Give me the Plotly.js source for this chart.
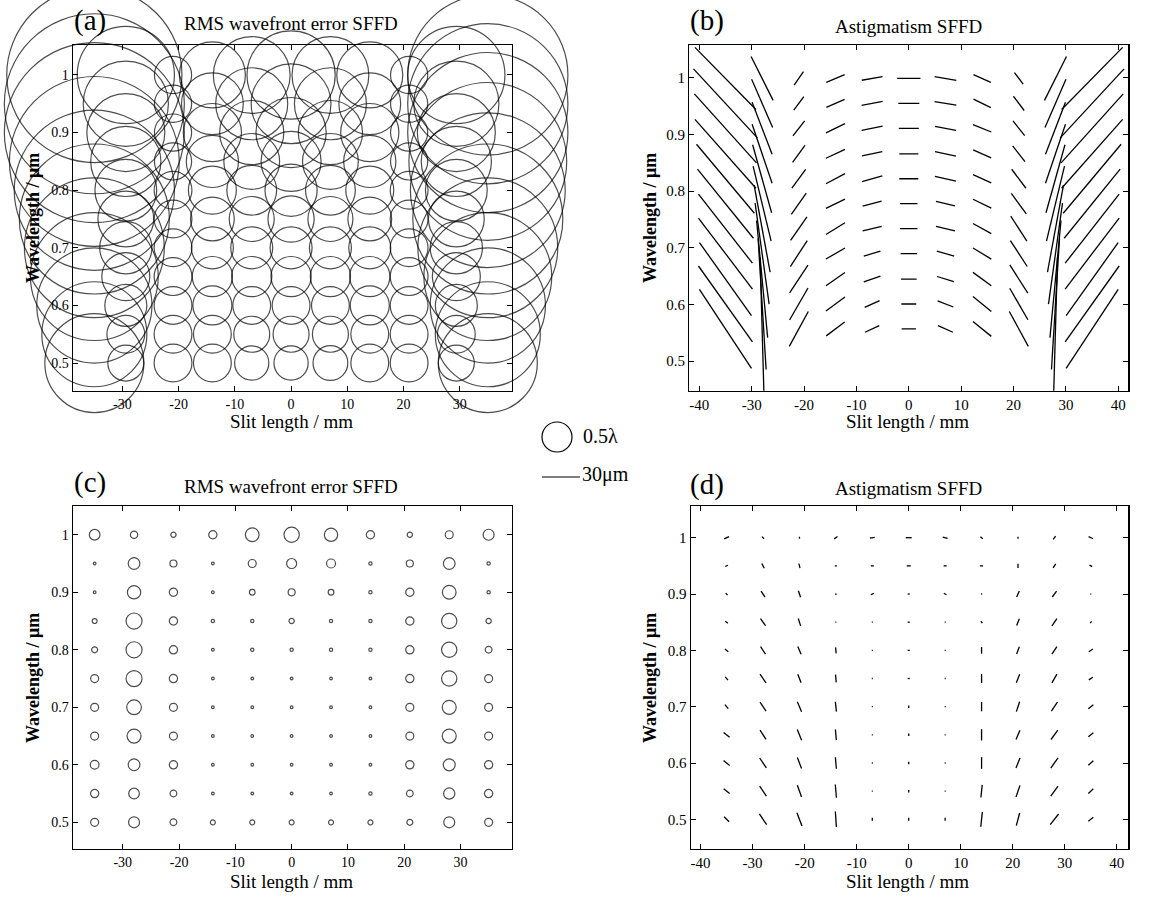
<!DOCTYPE html>
<html><head><meta charset="utf-8">
<script src="https://cdn.plot.ly/plotly-3.0.1.min.js"></script>
<style>html,body{margin:0;padding:0;background:#fff}</style>
</head><body>
<div id="chart" style="width:1163px;height:897px"></div>
<script>
// ---------- data ----------
const slit = [-35, -28, -21, -14, -7, 0, 7, 14, 21, 28, 35];           // mm
const slitA = [-35, -29.4, -21, -14, -7, 0, 7, 14, 21, 29.4, 35];       // mm, positions plotted in (a)
const wavelength = [1.0, 0.95, 0.9, 0.85, 0.8, 0.75, 0.7, 0.65, 0.6, 0.55, 0.5]; // um
const wavelengthB = [0.999, 0.955, 0.911, 0.866, 0.822, 0.778, 0.734, 0.690, 0.645, 0.601, 0.557]; // um, rows of (b)

const slitTicksAC = [-30, -20, -10, 0, 10, 20, 30];
const slitTicksBD = [-40, -30, -20, -10, 0, 10, 20, 30, 40];
const wlTicks = [0.5, 0.6, 0.7, 0.8, 0.9, 1];

// (a) RMS wavefront error [lambda], rows = wavelength (1.0 -> 0.5), cols = slit
const rmsA = [
  [2.92, 1.62, 0.62, 1.10, 1.28, 1.47, 1.28, 1.10, 0.62, 1.62, 2.67],
  [3.00, 1.42, 0.62, 1.03, 1.20, 1.33, 1.20, 1.03, 0.62, 1.42, 2.67],
  [3.00, 1.30, 0.62, 0.97, 1.07, 1.17, 1.07, 0.97, 0.62, 1.30, 2.67],
  [2.83, 1.17, 0.62, 0.87, 0.93, 1.00, 0.93, 0.87, 0.62, 1.17, 2.63],
  [2.67, 1.03, 0.63, 0.80, 0.83, 0.87, 0.83, 0.80, 0.63, 1.03, 2.58],
  [2.50, 0.93, 0.63, 0.73, 0.75, 0.77, 0.75, 0.73, 0.63, 0.93, 2.50],
  [2.33, 0.87, 0.63, 0.70, 0.70, 0.70, 0.70, 0.70, 0.63, 0.87, 2.33],
  [2.13, 0.80, 0.63, 0.67, 0.67, 0.67, 0.67, 0.67, 0.63, 0.80, 2.13],
  [1.92, 0.70, 0.63, 0.65, 0.63, 0.63, 0.63, 0.65, 0.63, 0.70, 1.92],
  [1.75, 0.63, 0.63, 0.63, 0.60, 0.60, 0.60, 0.63, 0.63, 0.63, 1.75],
  [1.65, 0.60, 0.63, 0.63, 0.57, 0.57, 0.58, 0.63, 0.63, 0.60, 1.65]
];

// (c) RMS wavefront error [lambda]
const rmsC = [
  [0.178, 0.122, 0.088, 0.138, 0.228, 0.255, 0.222, 0.138, 0.088, 0.133, 0.183],
  [0.045, 0.195, 0.117, 0.045, 0.133, 0.167, 0.150, 0.055, 0.117, 0.195, 0.055],
  [0.045, 0.222, 0.138, 0.045, 0.095, 0.117, 0.095, 0.055, 0.138, 0.228, 0.055],
  [0.083, 0.267, 0.138, 0.055, 0.055, 0.088, 0.055, 0.055, 0.138, 0.255, 0.088],
  [0.100, 0.267, 0.138, 0.045, 0.055, 0.055, 0.055, 0.055, 0.138, 0.255, 0.112],
  [0.133, 0.267, 0.138, 0.045, 0.045, 0.045, 0.045, 0.045, 0.138, 0.255, 0.133],
  [0.133, 0.245, 0.133, 0.045, 0.045, 0.045, 0.045, 0.045, 0.133, 0.233, 0.133],
  [0.133, 0.233, 0.133, 0.045, 0.045, 0.045, 0.045, 0.045, 0.133, 0.233, 0.133],
  [0.145, 0.195, 0.138, 0.045, 0.045, 0.045, 0.045, 0.045, 0.138, 0.200, 0.138],
  [0.138, 0.178, 0.112, 0.045, 0.045, 0.045, 0.045, 0.055, 0.112, 0.188, 0.138],
  [0.133, 0.183, 0.112, 0.083, 0.083, 0.083, 0.083, 0.083, 0.100, 0.183, 0.133]
];

// (b) astigmatism length [um] and orientation [deg]; one inner list per slit column (-35 ... 35), rows 1.0 -> 0.5
const astigLenB = [
  [68.7, 74.2, 73.3, 72.7, 71.1, 70.2, 69.2, 70.4, 70.7, 73.6, 74.7],
  [38.8, 41.4, 44.0, 49.2, 55.7, 60.9, 69.9, 80.5, 92.8, 103.6, 113.0],
  [12.9, 13.2, 15.0, 16.6, 18.5, 20.5, 22.5, 24.5, 26.2, 29.1, 31.4],
  [15.7, 15.8, 16.7, 16.6, 17.0, 16.7, 17.6, 17.4, 18.3, 18.6, 18.2],
  [16.6, 16.9, 16.9, 16.4, 16.7, 15.5, 15.5, 13.7, 13.9, 12.9, 12.5],
  [18.4, 16.6, 15.8, 15.0, 15.0, 13.7, 13.7, 12.9, 12.4, 11.8, 11.3],
  [17.4, 17.4, 16.9, 16.9, 17.1, 15.4, 15.4, 14.2, 13.8, 13.3, 12.9],
  [15.0, 15.2, 15.6, 15.6, 15.7, 16.1, 16.5, 16.9, 17.9, 18.7, 18.7],
  [11.4, 14.1, 14.8, 15.8, 18.8, 20.1, 23.4, 24.4, 26.4, 28.7, 31.4],
  [38.8, 41.4, 44.0, 49.2, 55.7, 60.9, 69.9, 80.5, 92.8, 103.6, 113.0],
  [68.7, 74.2, 73.3, 72.7, 71.1, 70.2, 69.2, 70.4, 70.7, 73.6, 74.7]
];
const astigAngB = [
  [-45.5, -47.2, -48, -48.5, -50, -51, -52, -52.7, -54.5, -54.6, -56.6],
  [-63.4, -66.4, -69, -71.3, -74.4, -76.5, -79.6, -82.1, -84.6, -86.5, -88.4],
  [55, 53, 52, 54, 54, 55, 55, 57, 56.5, 60, 61.5],
  [23, 24, 26, 25, 28, 26, 31.6, 30, 35, 36, 37],
  [10, 10.8, 11.7, 12, 15.6, 14.7, 13.8, 16.7, 18.8, 24, 25],
  [0, 0, 0, 0, 0, 0, 0, 0, 0, 0, 0],
  [-9.6, -9, -11, -12, -13, -13, -13, -16, -17, -21, -24],
  [-24, -25.7, -22, -24, -24, -26, -29, -31, -36, -39, -39],
  [-53, -53, -51.5, -52, -53, -54, -57, -57, -57.5, -60, -61.5],
  [63.4, 66.4, 69, 71.3, 74.4, 76.5, 79.6, 82.1, 84.6, 86.5, 88.4],
  [45.5, 47.2, 48, 48.5, 50, 51, 52, 52.7, 54.5, 54.6, 56.6]
];

// (d) astigmatism length [um] and orientation [deg]; rows = wavelength (1.0 -> 0.5), cols = slit
const astigLenD = [
  [4.3, 2.4, 1.6, 3.2, 3.9, 4.7, 3.9, 2.4, 1.6, 3.2, 3.9],
  [2.4, 4.1, 3.6, 1.6, 2.4, 3.2, 2.4, 2.4, 3.2, 3.9, 2.4],
  [2.1, 5.7, 5.5, 1.3, 2.6, 1.6, 2.4, 1.0, 5.2, 5.8, 0.8],
  [2.6, 6.8, 6.1, 0.8, 0.8, 1.6, 0.8, 2.0, 5.7, 7.0, 1.8],
  [3.4, 7.0, 6.6, 4.7, 0.8, 1.6, 0.8, 5.3, 6.2, 7.0, 3.8],
  [3.4, 8.3, 7.3, 6.1, 0.8, 1.6, 0.8, 6.9, 7.3, 7.9, 3.8],
  [4.1, 8.5, 8.6, 7.9, 0.8, 2.0, 0.8, 7.3, 8.3, 8.5, 5.1],
  [6.0, 8.7, 9.1, 8.4, 0.8, 2.0, 0.8, 8.9, 7.9, 9.1, 5.1],
  [6.2, 9.5, 9.3, 9.2, 0.8, 2.0, 0.8, 9.2, 8.5, 9.8, 5.4],
  [6.0, 9.5, 9.8, 10.5, 0.8, 2.0, 0.8, 10.0, 9.7, 9.8, 5.4],
  [5.6, 10.3, 11.2, 12.4, 2.4, 2.4, 2.4, 11.8, 10.3, 10.7, 5.1]
];
const astigAngD = [
  [25, -45, 90, 35, 10, 0, -15, -40, 90, 55, -25],
  [25, -63, -75, 0, 0, 0, 0, 0, 90, 58, -30],
  [-45, -56, -71, 0, 25, 0, -30, -80, 66, 54, 0],
  [-37, -54, -72, 0, 0, 0, 0, -50, 68, 56, 50],
  [-39, -56, -67, -85, 0, 0, 0, 90, 70, 56, 34],
  [-51, -55, -69, -85, 0, 0, 0, 90, 69, 60, 34],
  [-50, -56, -67, -84, 0, 90, 0, 90, 72, 56, 39],
  [-38, -57, -68, -85, 0, 90, 0, 90, 67, 54, 39],
  [-40, -56, -69, -85, 0, 90, 0, 90, 68, 54, 43],
  [-38, -56, -70, -85, 0, 90, 0, 84, 71, 54, 43],
  [-45, -56, -69, -86, 90, 90, 90, 84, 75, 52, 39]
];

const legendRms = 0.5;   // lambda
const legendLen = 30;    // um

// ---------- layout geometry ----------
const W = 1163, H = 897;
const PX_PER_LAMBDA = 60;   // circle diameter in px for 1 lambda
const PX_PER_UM = 38 / 30;  // segment length in px per um
const FONT = 'Liberation Serif';

const boxes = {
  a: {x: [72.7, 511.7], y: [45, 390.7], xr: [-38.85, 39.25], yr: [0.452, 1.052]},
  b: {x: [689.3, 1128.3], y: [45, 390.7], xr: [-41.9, 41.9], yr: [0.448, 1.058]},
  c: {x: [72.7, 511.7], y: [506, 849], xr: [-38.9, 39.1], yr: [0.4536, 1.050]},
  d: {x: [690.7, 1128.3], y: [506, 849], xr: [-41.9, 42.2], yr: [0.4473, 1.0563]}
};

function xAxis(box, ticks, anchor, fs) {
  return {
    domain: [box.x[0] / W, box.x[1] / W], range: box.xr, anchor: anchor,
    tickmode: 'array', tickvals: ticks, ticktext: ticks.map(String),
    ticks: 'inside', ticklen: 5, tickwidth: 1, tickcolor: '#000',
    mirror: 'ticks', showline: true, linecolor: '#000', linewidth: 1.2,
    showgrid: false, zeroline: false, fixedrange: true,
    tickfont: {family: FONT, size: fs, color: '#000'}
  };
}
function yAxis(box, anchor, fs) {
  return {
    domain: [1 - box.y[1] / H, 1 - box.y[0] / H], range: box.yr, anchor: anchor,
    tickmode: 'array', tickvals: wlTicks, ticktext: wlTicks.map(String),
    ticks: 'inside', ticklen: 5, tickwidth: 1, tickcolor: '#000',
    mirror: 'ticks', showline: true, linecolor: '#000', linewidth: 1.2,
    showgrid: false, zeroline: false, fixedrange: true,
    tickfont: {family: FONT, size: fs, color: '#000'}
  };
}

function circleTrace(xs, ys, V, xa, ya, clip) {
  const X = [], Y = [], S = [];
  for (let r = 0; r < ys.length; r++)
    for (let c = 0; c < xs.length; c++) {
      X.push(xs[c]); Y.push(ys[r]); S.push(V[r][c] * PX_PER_LAMBDA);
    }
  return {
    type: 'scatter', mode: 'markers', x: X, y: Y, xaxis: xa, yaxis: ya,
    cliponaxis: clip, hoverinfo: 'skip', showlegend: false,
    marker: {symbol: 'circle-open', size: S, color: '#000', line: {width: 1.2, color: '#000'}}
  };
}

function segTrace(xs, ys, L, A, box, xa, ya, byCol) {
  const pxX = (box.x[1] - box.x[0]) / (box.xr[1] - box.xr[0]);
  const pxY = (box.y[1] - box.y[0]) / (box.yr[1] - box.yr[0]);
  const X = [], Y = [];
  for (let r = 0; r < ys.length; r++)
    for (let c = 0; c < xs.length; c++) {
      const len = byCol ? L[c][r] : L[r][c];
      const ang = (byCol ? A[c][r] : A[r][c]) * Math.PI / 180;
      const h = len * PX_PER_UM / 2;
      const dx = h * Math.cos(ang) / pxX, dy = h * Math.sin(ang) / pxY;
      X.push(xs[c] - dx, xs[c] + dx, null);
      Y.push(ys[r] - dy, ys[r] + dy, null);
    }
  return {
    type: 'scatter', mode: 'lines', x: X, y: Y, xaxis: xa, yaxis: ya,
    hoverinfo: 'skip', showlegend: false, line: {color: '#000', width: 1.3}
  };
}

const traces = [
  circleTrace(slitA, wavelength, rmsA, 'x', 'y', false),
  segTrace(slit, wavelengthB, astigLenB, astigAngB, boxes.b, 'x2', 'y2', true),
  circleTrace(slit, wavelength, rmsC, 'x3', 'y3', true),
  segTrace(slit, wavelength, astigLenD, astigAngD, boxes.d, 'x4', 'y4', false)
];

function ann(text, px, py, size, extra) {
  return Object.assign({
    text: text, xref: 'paper', yref: 'paper', x: px / W, y: 1 - py / H,
    xanchor: 'center', yanchor: 'middle', showarrow: false,
    font: {family: FONT, size: size, color: '#000'}
  }, extra || {});
}

const astTitle = 'A s t i g m a t i s m  S F F D'.replace(/ (?! )/g, '\u200A').replace(/  /g, ' ');

const annotations = [
  ann('(a)', 90, 20, 29), ann('(b)', 707, 20, 29),
  ann('(c)', 90, 482, 29), ann('(d)', 707, 484, 29),
  ann('RMS wavefront error SFFD', 291, 23, 19),
  ann('Astigmatism SFFD', 908, 26, 19),
  ann('RMS wavefront error SFFD', 291, 486, 19),
  ann('Astigmatism SFFD', 908, 488, 19),
  ann('Slit length / mm', 291, 421, 19), ann('Slit length / mm', 907, 421, 19),
  ann('Slit length / mm', 291, 881, 19), ann('Slit length / mm', 907, 881, 19),
  ann('<b>Wavelength / μm</b>', 33, 218, 18, {textangle: -90}),
  ann('<b>Wavelength / μm</b>', 650, 218, 18, {textangle: -90}),
  ann('<b>Wavelength / μm</b>', 33, 678, 18, {textangle: -90}),
  ann('<b>Wavelength / μm</b>', 650, 678, 18, {textangle: -90}),
  ann('0.5λ', 581, 436, 20, {xanchor: 'left'}),
  ann('30μm', 580, 474, 20, {xanchor: 'left'})
];

const legCircleR = legendRms * PX_PER_LAMBDA / 2;
const legLinePx = legendLen * PX_PER_UM;
const shapes = [
  {type: 'circle', xref: 'paper', yref: 'paper', xsizemode: 'pixel', ysizemode: 'pixel',
   xanchor: 557 / W, yanchor: 1 - 437 / H,
   x0: -legCircleR, x1: legCircleR, y0: -legCircleR, y1: legCircleR,
   line: {color: '#000', width: 1.2}},
  {type: 'line', xref: 'paper', yref: 'paper', xsizemode: 'pixel', xanchor: 542 / W,
   x0: 0, x1: legLinePx, y0: 1 - 477 / H, y1: 1 - 477 / H, line: {color: '#000', width: 1.2}}
];

const layout = {
  width: W, height: H, margin: {l: 0, r: 0, t: 0, b: 0},
  paper_bgcolor: '#fff', plot_bgcolor: 'rgba(0,0,0,0)', showlegend: false,
  xaxis: xAxis(boxes.a, slitTicksAC, 'y', 14), yaxis: yAxis(boxes.a, 'x', 14),
  xaxis2: xAxis(boxes.b, slitTicksBD, 'y2', 15), yaxis2: yAxis(boxes.b, 'x2', 15),
  xaxis3: xAxis(boxes.c, slitTicksAC, 'y3', 14), yaxis3: yAxis(boxes.c, 'x3', 14),
  xaxis4: xAxis(boxes.d, slitTicksBD, 'y4', 15), yaxis4: yAxis(boxes.d, 'x4', 15),
  annotations: annotations, shapes: shapes
};

Plotly.newPlot('chart', traces, layout, {staticPlot: true, displayModeBar: false});
</script>
</body></html>
